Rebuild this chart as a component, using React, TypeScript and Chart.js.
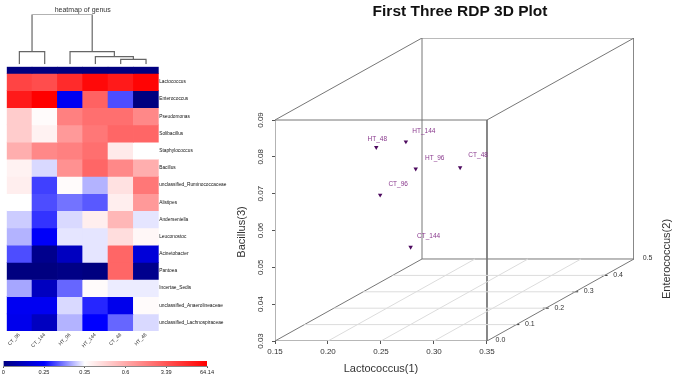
import React, { useEffect, useRef } from "react";
import { Chart, registerables } from "chart.js";

Chart.register(...registerables);

const FONT = "'Liberation Sans', Arial, sans-serif";

// ---------- heatmap data ----------
const samples = ["CT_96", "CT_144", "HT_96", "HT_144", "CT_48", "HT_48"];
const genera = [
  "Lactococcus", "Enterococcus", "Pseudomonas", "Solibacillus", "Staphylococcus", "Bacillus",
  "unclassified_Ruminococcaceae", "Alistipes", "Anderseniella", "Leuconostoc", "Acinetobacter",
  "Pantoea", "Incertae_Sedis", "unclassified_Anaerolineaceae", "unclassified_Lachnospiraceae",
];
// Position of each cell on the colour key (0 = left end, 1 = right end)
const heatLevels = [
  [0.84, 0.82, 0.90, 0.98, 0.94, 0.99],
  [0.94, 1.00, 0.18, 0.77, 0.26, 0.00],
  [0.52, 0.41, 0.70, 0.74, 0.74, 0.68],
  [0.52, 0.43, 0.64, 0.72, 0.76, 0.76],
  [0.59, 0.68, 0.70, 0.74, 0.45, 0.40],
  [0.43, 0.37, 0.66, 0.76, 0.68, 0.59],
  [0.44, 0.25, 0.41, 0.34, 0.47, 0.72],
  [0.40, 0.26, 0.29, 0.27, 0.44, 0.64],
  [0.36, 0.24, 0.37, 0.44, 0.57, 0.38],
  [0.34, 0.19, 0.38, 0.38, 0.48, 0.42],
  [0.26, 0.02, 0.10, 0.38, 0.76, 0.14],
  [0.00, 0.00, 0.01, 0.00, 0.76, 0.02],
  [0.33, 0.10, 0.28, 0.41, 0.385, 0.385],
  [0.18, 0.18, 0.37, 0.23, 0.17, 0.41],
  [0.17, 0.10, 0.34, 0.20, 0.28, 0.37],
];
const annotationLevels = [0, 0, 0, 0, 0, 0];
const keyLabels = ["0", "0.25", "0.35", "0.6", "3.39", "64.14"];

// Dendrogram merges: left / right child position on the column axis, and merge height
const dendroMerges = [
  { a: 0.5, b: 1.5, h: 0.254 },
  { a: 4.5, b: 5.5, h: 0.1 },
  { a: 3.5, b: 5.0, h: 0.153 },
  { a: 2.5, b: 4.25, h: 0.254 },
  { a: 1.0, b: 3.375, h: 1 },
];
const dendroChildHeights = [
  [0, 0], [0, 0], [0, 0.1], [0, 0.153], [0.254, 0.254],
];

// ---------- 3D scatter data ----------
const pointNames = ["HT_48", "HT_144", "HT_96", "CT_96", "CT_144", "CT_48"];
const lactococcus = [0.24, 0.218, 0.28, 0.166, 0.167, 0.308];
const bacillus = [0.0817, 0.0752, 0.0763, 0.0563, 0.0377, 0.0744];
const enterococcus = [0.02, 0.2, 0.01, 0.3, 0.4, 0.06];
const labelOffsets = [[1, -8], [18, -11], [19, -11], [18, -11], [18, -11], [18, -12]];
const xTicks = [0.15, 0.2, 0.25, 0.3, 0.35];
const yTicks = [0.03, 0.04, 0.05, 0.06, 0.07, 0.08, 0.09];
const zTicks = [0, 0.1, 0.2, 0.3, 0.4, 0.5];

// oblique projection of the depth axis onto the two plotted axes
const DEPTH_X = 0.2774;
const DEPTH_Y = 0.04453;
const project = (x: number, y: number, z: number) => ({ x: x + z * DEPTH_X, y: y + z * DEPTH_Y });
const GAP = { x: NaN, y: NaN };

const X0 = xTicks[0], X1 = xTicks[xTicks.length - 1];
const Y0 = yTicks[0], Y1 = yTicks[yTicks.length - 1];
const Z0 = zTicks[0], Z1 = zTicks[zTicks.length - 1];

function segments(list: number[][][]) {
  const out: any[] = [];
  list.forEach(([p, q]) => {
    out.push(project(p[0], p[1], p[2]), project(q[0], q[1], q[2]), GAP);
  });
  return out;
}

const boxEdges = segments([
  [[X0, Y1, Z0], [X1, Y1, Z0]],
  [[X1, Y1, Z0], [X1, Y0, Z0]],
  [[X0, Y1, Z1], [X1, Y1, Z1]],
  [[X1, Y1, Z1], [X1, Y0, Z1]],
  [[X0, Y0, Z1], [X1, Y0, Z1]],
  [[X0, Y0, Z1], [X0, Y1, Z1]],
  [[X0, Y0, Z0], [X0, Y0, Z1]],
  [[X0, Y1, Z0], [X0, Y1, Z1]],
  [[X1, Y1, Z0], [X1, Y1, Z1]],
  [[X1, Y0, Z0], [X1, Y0, Z1]],
]);
const frontAxes = segments([
  [[X0, Y0, Z0], [X1, Y0, Z0]],
  [[X0, Y0, Z0], [X0, Y1, Z0]],
]);
const floorGrid = segments([
  ...xTicks.slice(1, -1).map((x) => [[x, Y0, Z0], [x, Y0, Z1]]),
  ...zTicks.slice(1, -1).map((z) => [[X0, Y0, z], [X1, Y0, z]]),
]);

// ---------- colour key ----------
const keyStops: [number, number[]][] = [
  [0, [0, 0, 128]],
  [0.2, [0, 0, 255]],
  [0.4, [255, 255, 255]],
  [1, [255, 0, 0]],
];
function levelColor(t: number) {
  for (let i = 1; i < keyStops.length; i++) {
    const [t1, c1] = keyStops[i];
    const [t0, c0] = keyStops[i - 1];
    if (t <= t1) {
      const f = (t - t0) / (t1 - t0);
      const c = c0.map((v, k) => Math.round(v + (c1[k] - v) * f));
      return `rgb(${c[0]},${c[1]},${c[2]})`;
    }
  }
  return "rgb(255,0,0)";
}

const noLegend = { legend: { display: false }, tooltip: { enabled: false } };

function Canvas({ left, top, width, height, make, blur }: any) {
  const ref = useRef<HTMLCanvasElement>(null);
  useEffect(() => {
    const chart = make(ref.current);
    return () => chart.destroy();
  }, []);
  return (
    <canvas
      ref={ref}
      width={width}
      height={height}
      style={{ position: "absolute", left, top, width, height, display: "block", filter: `blur(${blur}px)` }}
    />
  );
}

function makeHeatmap(canvas: HTMLCanvasElement) {
  const datasets: any[] = [
    {
      data: annotationLevels.map(() => [-0.39, 0]),
      backgroundColor: annotationLevels.map(levelColor),
      grouped: false,
      barPercentage: 1,
      categoryPercentage: 1,
      borderWidth: 0,
    },
    ...genera.map((_, r) => ({
      data: samples.map(() => [r, r + 1]),
      backgroundColor: heatLevels[r].map(levelColor),
      grouped: false,
      barPercentage: 1,
      categoryPercentage: 1,
      borderWidth: 0,
    })),
  ];
  return new Chart(canvas, {
    type: "bar",
    data: { labels: samples, datasets },
    options: {
      responsive: false,
      animation: false,
      layout: { padding: { left: 6.7, top: 66.7, right: 0, bottom: 0 } },
      plugins: noLegend as any,
      scales: {
        x: {
          grid: { display: false, drawTicks: false },
          border: { display: false },
          ticks: { font: { family: FONT, size: 5 }, color: "#333", minRotation: 45, maxRotation: 45, padding: 1, autoSkip: false },
          afterFit: (s: any) => { s.height = 24; },
        },
        y: {
          position: "right",
          reverse: true,
          min: -0.39,
          max: 15,
          grid: { display: false, drawTicks: false },
          border: { display: false },
          afterBuildTicks: (s: any) => { s.ticks = genera.map((_, i) => ({ value: i + 0.5 })); },
          ticks: {
            autoSkip: false,
            padding: 0.5,
            font: { family: FONT, size: 4.8 },
            color: "#111",
            callback: (v: any) => genera[Math.round(v - 0.5)],
          },
          afterFit: (s: any) => { s.width = 81.3; },
        },
      } as any,
    },
  });
}

function makeDendro(canvas: HTMLCanvasElement) {
  const line: any[] = [];
  dendroMerges.forEach((m, i) => {
    const [ha, hb] = dendroChildHeights[i];
    line.push({ x: m.a, y: ha }, { x: m.a, y: m.h }, { x: m.b, y: m.h }, { x: m.b, y: hb }, GAP);
  });
  return new Chart(canvas, {
    type: "scatter",
    data: {
      datasets: [
        { data: line, showLine: true, spanGaps: false, pointRadius: 0, borderColor: "#666", borderWidth: 1.2 },
      ],
    },
    options: {
      responsive: false,
      animation: false,
      layout: { padding: { left: 6.7, right: 17.3, top: 0, bottom: 1.7 } },
      plugins: {
        ...noLegend,
        title: {
          display: true,
          text: "heatmap of genus",
          color: "#333",
          font: { family: FONT, size: 7, weight: "normal" },
          padding: { top: 6, bottom: 0 },
        },
      } as any,
      scales: {
        x: { type: "linear", min: 0, max: samples.length, display: false },
        y: { type: "linear", min: 0, max: 1, display: false },
      },
    },
  });
}

function makeKey(canvas: HTMLCanvasElement) {
  return new Chart(canvas, {
    type: "bar",
    data: {
      labels: ["key"],
      datasets: [
        {
          data: [[0, keyLabels.length - 1]],
          barPercentage: 1,
          categoryPercentage: 1,
          borderWidth: 0,
          backgroundColor: (ctx: any) => {
            const { chartArea, ctx: c } = ctx.chart;
            if (!chartArea) return "#fff";
            const g = c.createLinearGradient(chartArea.left, 0, chartArea.right, 0);
            keyStops.forEach(([t]) => g.addColorStop(t, levelColor(t)));
            return g;
          },
        },
      ],
    },
    options: {
      indexAxis: "y",
      responsive: false,
      animation: false,
      layout: { padding: { left: 3.3, right: 6.7, top: 6, bottom: 0 } },
      plugins: noLegend as any,
      scales: {
        x: {
          type: "linear",
          min: 0,
          max: keyLabels.length - 1,
          border: { display: true, color: "#888" },
          grid: { drawOnChartArea: false, tickLength: 2, tickColor: "#555" },
          afterBuildTicks: (s: any) => { s.ticks = keyLabels.map((_, i) => ({ value: i })); },
          ticks: {
            autoSkip: false,
            maxRotation: 0,
            padding: 1,
            font: { family: FONT, size: 5.6 },
            color: "#222",
            callback: (v: any) => keyLabels[v],
          },
          afterFit: (s: any) => { s.height = 10; },
        },
        y: { display: false },
      } as any,
    },
  });
}

const scatterLabels = {
  id: "scatterLabels",
  afterDatasetsDraw(chart: any) {
    const { ctx, scales } = chart;
    const sx = scales.x, sy = scales.y;
    ctx.save();
    ctx.textBaseline = "middle";
    ctx.textAlign = "center";
    // point labels
    ctx.fillStyle = "#8a3a8e";
    ctx.font = `6.5px ${FONT}`;
    pointNames.forEach((name, i) => {
      const p = project(lactococcus[i], bacillus[i], enterococcus[i]);
      ctx.fillText(name, sx.getPixelForValue(p.x) + labelOffsets[i][0], sy.getPixelForValue(p.y) + labelOffsets[i][1]);
    });
    // depth-axis tick labels
    ctx.fillStyle = "#333";
    ctx.font = `7px ${FONT}`;
    zTicks.forEach((z) => {
      const p = project(X1, Y0, z);
      ctx.fillText(z.toFixed(1), sx.getPixelForValue(p.x) + 13.5, sy.getPixelForValue(p.y) - 0.5);
    });
    // axis titles
    ctx.fillStyle = "#333";
    ctx.font = `11px ${FONT}`;
    const mid = sx.getPixelForValue((X0 + X1) / 2);
    ctx.fillText("Lactococcus(1)", mid + 0, sy.getPixelForValue(Y0) + 27.5);
    const rotated = (text: string, px: number, py: number) => {
      ctx.save();
      ctx.translate(px, py);
      ctx.rotate(-Math.PI / 2);
      ctx.fillText(text, 0, 0);
      ctx.restore();
    };
    rotated("Bacillus(3)", sx.getPixelForValue(X0) - 33, sy.getPixelForValue(Y0) - 109);
    const b = project(X1, Y0, Z1);
    rotated("Enterococcus(2)", sx.getPixelForValue(b.x) + 33, sy.getPixelForValue(b.y));
    ctx.restore();
  },
};

function make3D(canvas: HTMLCanvasElement) {
  return new Chart(canvas, {
    type: "scatter",
    data: {
      datasets: [
        { data: floorGrid, showLine: true, spanGaps: false, pointRadius: 0, borderColor: "#dcdcdc", borderWidth: 1 },
        { data: boxEdges, showLine: true, spanGaps: false, pointRadius: 0, borderColor: "#777", borderWidth: 1 },
        { data: frontAxes, showLine: true, spanGaps: false, pointRadius: 0, borderColor: "#a0a0a0", borderWidth: 1.6 },
        {
          data: zTicks.slice(1, -1).map((z) => project(X1, Y0, z)),
          showLine: false,
          pointStyle: "line",
          pointRadius: 3,
          borderColor: "#333",
          borderWidth: 1,
        },
        {
          data: pointNames.map((_, i) => project(lactococcus[i], bacillus[i], enterococcus[i])),
          showLine: false,
          pointStyle: "triangle",
          rotation: 180,
          pointRadius: 2.6,
          backgroundColor: "#4d0a5f",
          borderColor: "#4d0a5f",
          borderWidth: 0,
        },
      ] as any,
    },
    plugins: [scatterLabels],
    options: {
      responsive: false,
      animation: false,
      layout: { padding: { left: 15, right: 15, top: 0, bottom: 0 } },
      plugins: {
        ...noLegend,
        title: {
          display: true,
          text: "First Three RDP 3D Plot",
          color: "#111",
          font: { family: FONT, size: 15.5, weight: "bold", lineHeight: 1.2 },
          padding: { top: 2, bottom: 17.4 },
        },
      } as any,
      scales: {
        x: {
          type: "linear",
          min: X0,
          max: X1 + Z1 * DEPTH_X,
          border: { display: false },
          grid: { drawOnChartArea: false, tickLength: 3, tickColor: "#555" },
          afterBuildTicks: (s: any) => { s.ticks = xTicks.map((value) => ({ value })); },
          ticks: {
            autoSkip: false,
            maxRotation: 0,
            padding: 3,
            font: { family: FONT, size: 8 },
            color: "#333",
            callback: (v: any) => Number(v).toFixed(2),
          },
          afterFit: (s: any) => { s.height = 35; },
        },
        y: {
          type: "linear",
          min: Y0,
          max: Y1 + Z1 * DEPTH_Y,
          border: { display: false },
          grid: { drawOnChartArea: false, tickLength: 3, tickColor: "#555" },
          afterBuildTicks: (s: any) => { s.ticks = yTicks.map((value) => ({ value })); },
          ticks: {
            autoSkip: false,
            minRotation: 90,
            maxRotation: 90,
            crossAlign: "center",
            padding: 3,
            font: { family: FONT, size: 8 },
            color: "#333",
            callback: (v: any) => Number(v).toFixed(2),
          },
          afterFit: (s: any) => { s.width = 30; },
        },
        // empty right-hand margin that keeps the title where it belongs
        yMargin: {
          type: "linear",
          position: "right",
          grid: { display: false, drawTicks: false },
          border: { display: false },
          ticks: { display: false },
          afterFit: (s: any) => { s.width = 41; },
        },
      } as any,
    },
  });
}

export default function App() {
  return (
    <div style={{ position: "absolute", left: 0, top: 0, width: 675, height: 376, overflow: "hidden", background: "#fff" }}>
      <Canvas left={0} top={0} width={176} height={66} make={makeDendro} blur={0.3} />
      <Canvas left={0} top={0} width={240} height={355} make={makeHeatmap} blur={0.4} />
      <Canvas left={0} top={355} width={215} height={21} make={makeKey} blur={0.4} />
      <Canvas left={230} top={0} width={460} height={376} make={make3D} blur={0.25} />
    </div>
  );
}
